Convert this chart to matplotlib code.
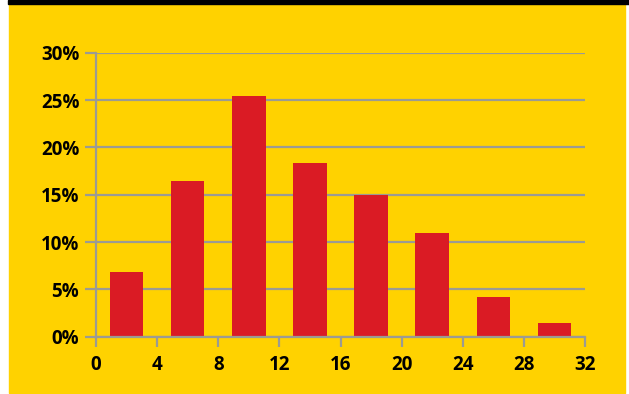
import matplotlib
matplotlib.use("Agg")
import matplotlib.pyplot as plt
from matplotlib.patches import Rectangle
from matplotlib.ticker import FuncFormatter

bin_centers = [2, 6, 10, 14, 18, 22, 26, 30]
shares = [6.8, 16.4, 25.4, 18.3, 15.0, 11.0, 4.2, 1.4]
x_ticks = [0, 4, 8, 12, 16, 20, 24, 28, 32]
y_ticks = [0, 5, 10, 15, 20, 25, 30]

yellow = "#FFD200"
red = "#DA1B24"
grey = "#9B9B93"

plt.rcParams['font.family'] = ['Open Sans', 'DejaVu Sans']

fig = plt.figure(figsize=(6.29, 3.94), dpi=100)
fig.patches.append(Rectangle((9/629, 1/394), 616/629, 389/394,
                             transform=fig.transFigure, color=yellow, zorder=-2))
fig.patches.append(Rectangle((8/629, 390/394), 621/629, 4/394,
                             transform=fig.transFigure, color="black", zorder=-2))

ax = fig.add_axes([96/629, 1 - 336.7/394, 489/629, 284/394])
ax.set_facecolor("none")
ax.bar(bin_centers, shares, width=2.2, color=red, zorder=3)

ax.set_xlim(0, 32)
ax.set_ylim(0, 30)
ax.set_xticks(x_ticks)
ax.set_yticks(y_ticks)
ax.yaxis.set_major_formatter(FuncFormatter(lambda v, p: f"{int(v)}%"))

ax.grid(axis="y", color=grey, linewidth=1.6, zorder=1)
ax.set_axisbelow(True)
for s in ["top", "right"]:
    ax.spines[s].set_visible(False)
for s in ["left", "bottom"]:
    ax.spines[s].set_color(grey)
    ax.spines[s].set_linewidth(1.6)
    ax.spines[s].set_zorder(4)

ax.tick_params(axis="y", length=8, width=1.6, color=grey, pad=4,
               labelsize=13.5)
ax.tick_params(axis="x", length=7, width=1.6, color=grey, pad=6,
               labelsize=13.5)
for lab in ax.get_xticklabels() + ax.get_yticklabels():
    lab.set_fontweight("bold")

fig.savefig("out.png", dpi=100)
